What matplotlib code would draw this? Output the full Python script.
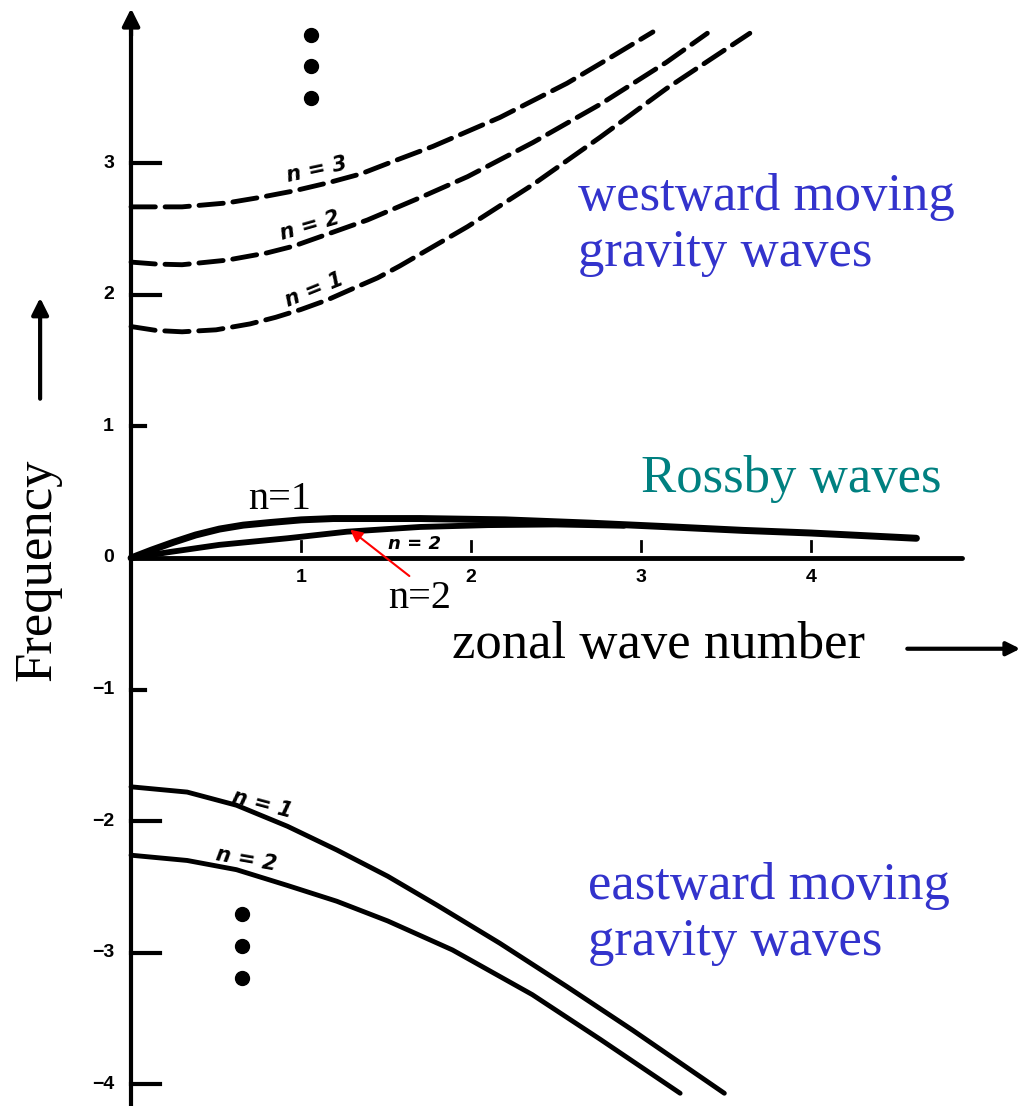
import matplotlib
matplotlib.use("Agg")
import matplotlib.pyplot as plt

# westward moving gravity waves (dashed)
west_n1_x = [0, 0.15, 0.3, 0.5, 0.7, 0.85, 1.0, 1.15, 1.29, 1.45, 1.58, 1.98, 2.365, 2.76, 3.15, 3.64]
west_n1_y = [1.76, 1.73, 1.72, 1.735, 1.78, 1.83, 1.89, 1.96, 2.04, 2.13, 2.22, 2.52, 2.84, 3.2, 3.57, 3.99]
west_n2_x = [0, 0.15, 0.3, 0.565, 0.8, 0.953, 1.15, 1.39, 1.7, 1.98, 2.365, 2.76, 3.15, 3.39]
west_n2_y = [2.25, 2.235, 2.23, 2.265, 2.32, 2.37, 2.46, 2.57, 2.74, 2.90, 3.16, 3.45, 3.77, 3.99]
west_n3_x = [0, 0.3, 0.565, 0.75, 0.953, 1.15, 1.35, 1.55, 1.776, 2.17, 2.565, 2.8, 3.07]
west_n3_y = [2.67, 2.67, 2.70, 2.74, 2.79, 2.85, 2.92, 3.02, 3.13, 3.35, 3.61, 3.79, 4.0]

# Rossby waves
ross_n1_x = [0, 0.12, 0.25, 0.38, 0.52, 0.66, 0.82, 1.0, 1.19, 1.70, 2.2, 2.7, 3.12, 3.6, 4.0, 4.62]
ross_n1_y = [0, 0.06, 0.12, 0.175, 0.22, 0.25, 0.27, 0.29, 0.30, 0.30, 0.29, 0.265, 0.24, 0.21, 0.19, 0.15]
ross_n2_x = [0, 0.23, 0.52, 0.92, 1.27, 1.70, 2.1, 2.5, 2.9]
ross_n2_y = [0, 0.046, 0.10, 0.15, 0.20, 0.236, 0.25, 0.255, 0.245]

# eastward moving gravity waves (solid)
east_n1_x = [0, 0.33, 0.62, 0.92, 1.21, 1.51, 1.80, 2.17, 2.565, 2.95, 3.49]
east_n1_y = [-1.74, -1.78, -1.88, -2.04, -2.22, -2.42, -2.64, -2.93, -3.26, -3.59, -4.07]
east_n2_x = [0, 0.33, 0.62, 0.92, 1.21, 1.51, 1.89, 2.36, 2.76, 3.23]
east_n2_y = [-2.26, -2.30, -2.37, -2.49, -2.61, -2.76, -2.98, -3.32, -3.66, -4.07]

y_ticks = [3, 2, 1, 0, -1, -2, -3, -4]
x_ticks = [1, 2, 3, 4]

fig = plt.figure(figsize=(10.23, 11.06), dpi=100)
ax = fig.add_axes([0, 0, 1, 1])
ax.set_xlim(-0.771, 5.247)
ax.set_ylim(-4.167, 4.243)
ax.axis("off")

dash = (0, (5, 2))
for xs, ys in [(west_n1_x, west_n1_y), (west_n2_x, west_n2_y), (west_n3_x, west_n3_y)]:
    ax.plot(xs, ys, color="black", lw=3.5, linestyle=dash, dash_capstyle="round")
ax.plot(ross_n1_x, ross_n1_y, color="black", lw=5, solid_capstyle="round", solid_joinstyle="round")
ax.plot(ross_n2_x, ross_n2_y, color="black", lw=4.2, solid_capstyle="round", solid_joinstyle="round")
for xs, ys in [(east_n1_x, east_n1_y), (east_n2_x, east_n2_y)]:
    ax.plot(xs, ys, color="black", lw=3.5, solid_capstyle="round", solid_joinstyle="round")

# axes drawn by hand like the scan
ax.plot([0, 0], [-4.17, 4.0], color="black", lw=3)
ax.annotate("", xy=(0, 4.2), xytext=(0, 3.95),
            arrowprops=dict(arrowstyle="-|>", color="black", lw=3, mutation_scale=26))
ax.plot([0, 4.89], [0, 0], color="black", lw=3.5, solid_capstyle="round")

tick_font = dict(family="Liberation Sans", fontweight="bold", fontsize=14)
for v in y_ticks:
    if v in (1, -1):
        ax.plot([0, 0.08], [v, v], color="black", lw=3)
    elif v != 0:
        ax.plot([0, 0.17], [v, v], color="black", lw=3)
    lab = str(v).replace("-", "\u2212")
    ax.text(-0.1, v, lab, ha="right", va="center", **tick_font)
for v in x_ticks:
    ax.plot([v, v], [0.05, 0.13], color="black", lw=2)
    ax.text(v, -0.15, str(v), ha="center", va="center", **tick_font)

# dots
ax.plot([1.06, 1.06, 1.06], [3.98, 3.74, 3.50], "o", color="black", ms=10)
ax.plot([0.653, 0.653, 0.653], [-2.71, -2.95, -3.19], "o", color="black", ms=10)

# hand written curve labels from the scan
lab_font = dict(family="DejaVu Sans", fontweight="bold", fontstyle="italic", fontsize=15)
ax.text(1.09, 2.95, "n = 3", rotation=12, ha="center", va="center", **lab_font)
ax.text(1.05, 2.53, "n = 2", rotation=16, ha="center", va="center", **lab_font)
ax.text(1.08, 2.04, "n = 1", rotation=22, ha="center", va="center", **lab_font)
ax.text(0.77, -1.87, "n = 1", rotation=-15, ha="center", va="center", **lab_font)
ax.text(0.68, -2.29, "n = 2", rotation=-10, ha="center", va="center", **lab_font)
ax.text(1.67, 0.11, "n = 2", rotation=0, ha="center", va="center",
        family="DejaVu Sans", fontweight="bold", fontstyle="italic", fontsize=13)

serif = "Liberation Serif"
blue = "#3333cc"
ax.text(2.63, 2.53, "westward moving\ngravity waves", color=blue, family=serif,
        fontsize=38, ha="left", va="center", linespacing=1.22)
ax.text(2.69, -2.71, "eastward moving\ngravity waves", color=blue, family=serif,
        fontsize=38, ha="left", va="center", linespacing=1.22)
ax.text(3.0, 0.50, "Rossby waves", color="#008080", family=serif,
        fontsize=38, ha="left", va="baseline")
ax.text(1.89, -0.76, "zonal wave number", color="black", family=serif,
        fontsize=38, ha="left", va="baseline")
ax.annotate("", xy=(5.247, -0.69), xytext=(4.55, -0.69),
            arrowprops=dict(arrowstyle="-|>", color="black", lw=3, mutation_scale=20))
ax.text(-0.553, -0.09, "Frequency", color="black", family=serif, fontsize=38,
        rotation=90, ha="center", va="center")
ax.annotate("", xy=(-0.535, 2.0), xytext=(-0.535, 1.19),
            arrowprops=dict(arrowstyle="-|>", color="black", lw=3, mutation_scale=25))

ax.text(0.69, 0.37, "n=1", color="black", family=serif, fontsize=29, ha="left", va="baseline")
ax.text(1.51, -0.38, "n=2", color="black", family=serif, fontsize=29, ha="left", va="baseline")
ax.annotate("", xy=(1.276, 0.228), xytext=(1.65, -0.15),
            arrowprops=dict(arrowstyle="-|>", color="red", lw=1.5, mutation_scale=18))

fig.savefig("out.png", dpi=100)
